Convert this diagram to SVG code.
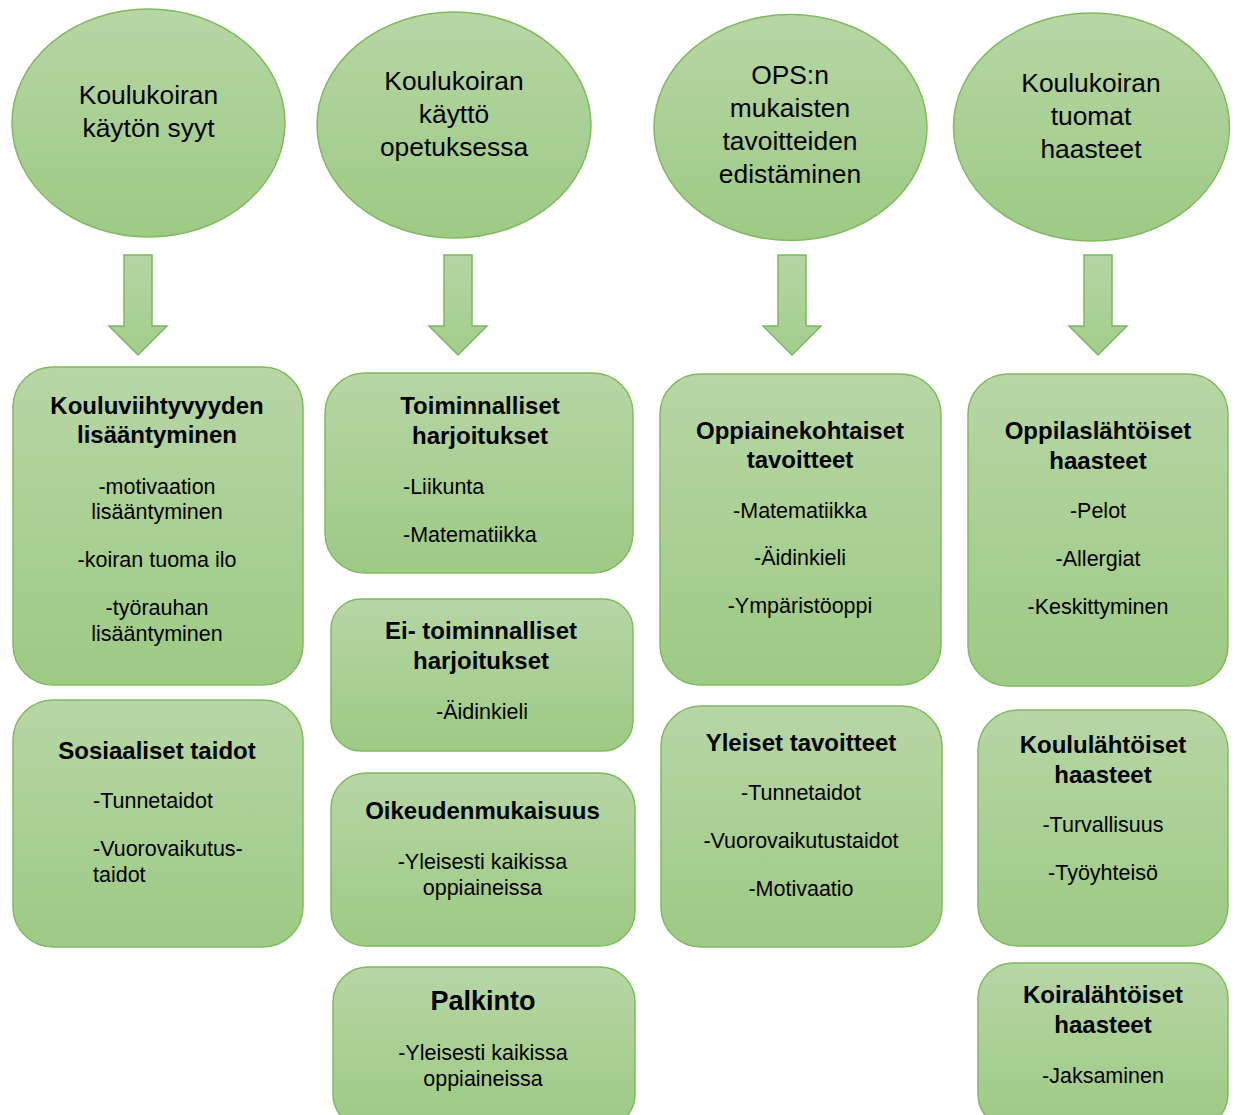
<svg xmlns="http://www.w3.org/2000/svg" width="1235" height="1115" viewBox="0 0 1235 1115">
<defs>
<linearGradient id="g" x1="0" y1="0" x2="0" y2="1">
<stop offset="0" stop-color="#b7d6a5"/>
<stop offset="1" stop-color="#9dca84"/>
</linearGradient>
<linearGradient id="ga" x1="0" y1="0" x2="0" y2="1">
<stop offset="0" stop-color="#b5d6a3"/>
<stop offset="1" stop-color="#a2cd8b"/>
</linearGradient>
<style>
.sh{fill:url(#g);stroke:#80ba60;stroke-width:1.5}
.ar{fill:url(#ga);stroke:#7db75d;stroke-width:1.5;stroke-linejoin:miter}
text{font-family:"Liberation Sans",Arial,sans-serif;fill:#000;text-anchor:middle}
.e{font-size:26.4px}
.t{font-size:24px;font-weight:bold}
.b{font-size:21.5px}
.l{text-anchor:start}
</style>
</defs>
<rect width="1235" height="1115" fill="#fff"/>

<g id="e1"><ellipse class="sh" cx="148.5" cy="123" rx="136.5" ry="114"/>
<text class="e" x="148.5" y="104">Koulukoiran</text><text class="e" x="148.5" y="137">käytön syyt</text></g>
<g id="e2"><ellipse class="sh" cx="454" cy="125" rx="137" ry="113"/>
<text class="e" x="454" y="90">Koulukoiran</text><text class="e" x="454" y="123">käyttö</text><text class="e" x="454" y="156">opetuksessa</text></g>
<g id="e3"><ellipse class="sh" cx="790.5" cy="127.5" rx="136.5" ry="113"/>
<text class="e" x="790" y="84">OPS:n</text><text class="e" x="790" y="117">mukaisten</text><text class="e" x="790" y="150">tavoitteiden</text><text class="e" x="790" y="183">edistäminen</text></g>
<g id="e4"><ellipse class="sh" cx="1091.5" cy="127" rx="138" ry="114"/>
<text class="e" x="1091" y="92">Koulukoiran</text><text class="e" x="1091" y="125">tuomat</text><text class="e" x="1091" y="158">haasteet</text></g>

<g id="connectors">
<path class="ar" d="M124,255 H152 V326 H167 L138,355 L109,326 H124 Z"/>
<path class="ar" d="M444,255 H472 V326 H487 L458,355 L429,326 H444 Z"/>
<path class="ar" d="M778,255 H806 V326 H821 L792,355 L763,326 H778 Z"/>
<path class="ar" d="M1084,255 H1112 V326 H1127 L1098,355 L1069,326 H1084 Z"/>
</g>

<g id="b1"><rect class="sh" x="13" y="367" width="290" height="318" rx="40"/>
<text class="t" x="157" y="414">Kouluviihtyvyyden</text><text class="t" x="157" y="443">lisääntyminen</text>
<text class="b" x="157" y="494">-motivaation</text><text class="b" x="157" y="519">lisääntyminen</text>
<text class="b" x="157" y="567">-koiran tuoma ilo</text>
<text class="b" x="157" y="615">-työrauhan</text><text class="b" x="157" y="641">lisääntyminen</text></g>

<g id="b2"><rect class="sh" x="13" y="700" width="290" height="247" rx="40"/>
<text class="t" x="157" y="759">Sosiaaliset taidot</text>
<text class="b l" x="93" y="808">-Tunnetaidot</text>
<text class="b l" x="93" y="856">-Vuorovaikutus-</text><text class="b l" x="93" y="882">taidot</text></g>

<g id="b3"><rect class="sh" x="325" y="373" width="308" height="200" rx="40"/>
<text class="t" x="480" y="414">Toiminnalliset</text><text class="t" x="480" y="444">harjoitukset</text>
<text class="b l" x="403" y="494">-Liikunta</text>
<text class="b l" x="403" y="542">-Matematiikka</text></g>

<g id="b4"><rect class="sh" x="331" y="599" width="302" height="152" rx="30"/>
<text class="t" x="481" y="639">Ei- toiminnalliset</text><text class="t" x="481" y="669">harjoitukset</text>
<text class="b" x="482" y="719">-Äidinkieli</text></g>

<g id="b5"><rect class="sh" x="331" y="773" width="304" height="173" rx="35"/>
<text class="t" x="482.5" y="819">Oikeudenmukaisuus</text>
<text class="b" x="482.5" y="869">-Yleisesti kaikissa</text><text class="b" x="482.5" y="895">oppiaineissa</text></g>

<g id="b6"><rect class="sh" x="333" y="967" width="302" height="162" rx="35"/>
<text class="t" x="483" y="1010" style="font-size:27px">Palkinto</text>
<text class="b" x="483" y="1060">-Yleisesti kaikissa</text><text class="b" x="483" y="1086">oppiaineissa</text></g>

<g id="b7"><rect class="sh" x="660" y="374" width="281" height="311" rx="40"/>
<text class="t" x="800" y="439">Oppiainekohtaiset</text><text class="t" x="800" y="468">tavoitteet</text>
<text class="b" x="800" y="518">-Matematiikka</text>
<text class="b" x="800" y="565">-Äidinkieli</text>
<text class="b" x="800" y="613">-Ympäristöoppi</text></g>

<g id="b8"><rect class="sh" x="661" y="706" width="281" height="241" rx="40"/>
<text class="t" x="801" y="751">Yleiset tavoitteet</text>
<text class="b" x="801" y="800">-Tunnetaidot</text>
<text class="b" x="801" y="848">-Vuorovaikutustaidot</text>
<text class="b" x="801" y="896">-Motivaatio</text></g>

<g id="b9"><rect class="sh" x="968" y="374" width="260" height="312" rx="40"/>
<text class="t" x="1098" y="439">Oppilaslähtöiset</text><text class="t" x="1098" y="469">haasteet</text>
<text class="b" x="1098" y="518">-Pelot</text>
<text class="b" x="1098" y="566">-Allergiat</text>
<text class="b" x="1098" y="614">-Keskittyminen</text></g>

<g id="b10"><rect class="sh" x="978" y="710" width="250" height="236" rx="40"/>
<text class="t" x="1103" y="753">Koululähtöiset</text><text class="t" x="1103" y="783">haasteet</text>
<text class="b" x="1103" y="832">-Turvallisuus</text>
<text class="b" x="1103" y="880">-Työyhteisö</text></g>

<g id="b11"><rect class="sh" x="978" y="963" width="250" height="166" rx="35"/>
<text class="t" x="1103" y="1003">Koiralähtöiset</text><text class="t" x="1103" y="1033">haasteet</text>
<text class="b" x="1103" y="1083">-Jaksaminen</text></g>
</svg>
